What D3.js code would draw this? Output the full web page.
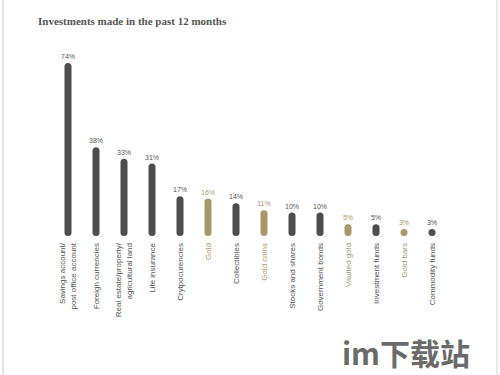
<!DOCTYPE html>
<html>
<head>
<meta charset="utf-8">
<script src="https://cdn.jsdelivr.net/npm/d3@7"></script>
<style>
  body { margin: 0; background: #fff; }
  svg { display: block; }
</style>
</head>
<body>
<svg width="500" height="375"></svg>
<script>
// data
var categories = [
  ["Savings account/", "post office account"],
  ["Foreign currencies"],
  ["Real estate/property/", "agricultural land"],
  ["Life insurance"],
  ["Crytpocurencies"],
  ["Gold"],
  ["Collectibles"],
  ["Gold coins"],
  ["Stocks and shares"],
  ["Government bonds"],
  ["Vaulted gold"],
  ["Investment funds"],
  ["Gold bars"],
  ["Commodity funds"]
];
var values = [74, 38, 33, 31, 17, 16, 14, 11, 10, 10, 5, 5, 3, 3];
var isGold = [false, false, false, false, false, true, false, true, false, false, true, false, true, false];

var svg = d3.select("svg"),
    width = +svg.attr("width"),
    height = +svg.attr("height");

var dark = "#4d4d4d",
    gold = "#a8976a",
    barW = 7;

// frame lines at the sides
svg.append("rect").attr("x", 2).attr("y", 0).attr("width", 2).attr("height", height).attr("fill", "#e6e6ee");
svg.append("rect").attr("x", 496).attr("y", 0).attr("width", 2).attr("height", height).attr("fill", "#e6e6ee");

svg.append("text")
  .attr("x", 38)
  .attr("y", 25)
  .style("font-family", "'Liberation Serif', serif")
  .style("font-weight", "bold")
  .style("font-size", "11px")
  .style("fill", "#555")
  .text("Investments made in the past 12 months");

var x = d3.scaleBand()
  .domain(d3.range(values.length))
  .range([54, 446])
  .padding(0);

var y = d3.scaleLinear()
  .domain([0, 74])
  .range([236, 63]);

function col(i) { return isGold[i] ? gold : dark; }
function cx(i) { return x(i) + x.bandwidth() / 2; }

var bars = svg.append("g").selectAll("rect")
  .data(values)
  .enter().append("rect")
  .attr("x", function(d, i) { return cx(i) - barW / 2; })
  .attr("y", function(d) { return Math.min(y(d), y(0) - barW); })
  .attr("width", barW)
  .attr("height", function(d) { return Math.max(y(0) - y(d), barW); })
  .attr("rx", barW / 2)
  .attr("fill", function(d, i) { return col(i); });

svg.append("g").selectAll("text")
  .data(values)
  .enter().append("text")
  .attr("x", function(d, i) { return cx(i); })
  .attr("y", function(d) { return Math.min(y(d), y(0) - barW) - 4; })
  .attr("text-anchor", "middle")
  .style("font-family", "'Liberation Sans', Arial, sans-serif")
  .style("font-size", "7px")
  .style("fill", function(d, i) { return isGold[i] ? gold : "#555"; })
  .text(function(d) { return d + "%"; });

var labels = svg.append("g").selectAll("text")
  .data(categories)
  .enter().append("text")
  .attr("transform", function(d, i) {
    var off = d.length > 1 ? -6 : 0;
    return "translate(" + (cx(i) + off + 3) + ",243) rotate(-90)";
  })
  .attr("text-anchor", "end")
  .style("font-family", "'Liberation Sans', Arial, sans-serif")
  .style("font-size", "8px")
  .style("fill", function(d, i) { return isGold[i] ? gold : "#555"; });

labels.selectAll("tspan")
  .data(function(d) { return d; })
  .enter().append("tspan")
  .attr("x", 0)
  .attr("dy", function(d, j) { return j ? 11 : 0; })
  .text(function(d) { return d; });

// watermark
svg.append("text")
  .attr("x", 342)
  .attr("y", 365)
  .style("font-family", "'Noto Sans CJK SC', sans-serif")
  .style("font-weight", "bold")
  .style("font-size", "30px")
  .style("fill", "#6a6a6a")
  .text("im下载站");
</script>
</body>
</html>
